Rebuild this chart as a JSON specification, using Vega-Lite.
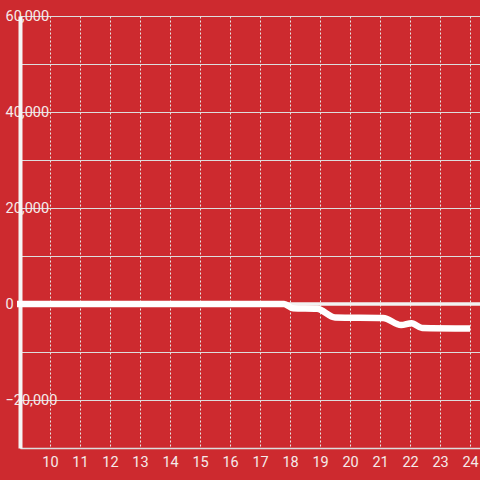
{
  "$schema": "https://vega.github.io/schema/vega-lite/v6.json",
  "width": 460,
  "height": 432,
  "autosize": "none",
  "padding": {"left": 20, "top": 16, "right": 0, "bottom": 32},
  "background": "#cd2a2f",
  "config": {
    "view": {"stroke": null},
    "font": "Roboto",
    "axis": {"labelFont": "Roboto", "labelFontSize": 14.5, "labelColor": "#f5eaea", "ticks": false, "title": null}
  },
  "layer": [
    {
      "data": {"values": [{"z": 0}]},
      "mark": {"type": "rule", "color": "#f2f2f2", "strokeWidth": 3.5},
      "encoding": {
        "y": {"field": "z", "type": "quantitative", "scale": {"domain": [-30000, 60000], "nice": false}}
      }
    },
    {
      "data": {"values": [
        {"hour": 8.9, "value": 0},
        {"hour": 17.8, "value": 0},
        {"hour": 18.1, "value": -900},
        {"hour": 18.9, "value": -1000},
        {"hour": 19.5, "value": -2800},
        {"hour": 21.1, "value": -2900},
        {"hour": 21.7, "value": -4400},
        {"hour": 22.05, "value": -4000},
        {"hour": 22.4, "value": -5000},
        {"hour": 24, "value": -5100}
      ]},
      "mark": {"type": "line", "color": "#ffffff", "strokeWidth": 6.5, "interpolate": "monotone"},
      "encoding": {
        "x": {
          "field": "hour", "type": "quantitative",
          "scale": {"domain": [9, 24.33], "nice": false, "zero": false},
          "axis": {
            "values": [10, 11, 12, 13, 14, 15, 16, 17, 18, 19, 20, 21, 22, 23, 24],
            "grid": true, "gridColor": "#e6e6e6", "gridDash": [2, 2], "gridWidth": 1, "gridOpacity": 1,
            "domainColor": "#dddddd", "domainWidth": 1.5,
            "labelPadding": 7
          }
        },
        "y": {
          "field": "value", "type": "quantitative",
          "scale": {"domain": [-30000, 60000], "nice": false},
          "axis": {
            "values": [-30000, -20000, -10000, 0, 10000, 20000, 30000, 40000, 50000, 60000],
            "labelExpr": "datum.value % 20000 === 0 ? format(datum.value, ',') : ''",
            "grid": true, "gridColor": "#dddddd", "gridWidth": 1, "gridOpacity": 1,
            "domainColor": "#f5f5f5", "domainWidth": 4,
            "labelAlign": "left", "labelPadding": 15, "labelBaseline": "middle"
          }
        }
      }
    }
  ]
}
